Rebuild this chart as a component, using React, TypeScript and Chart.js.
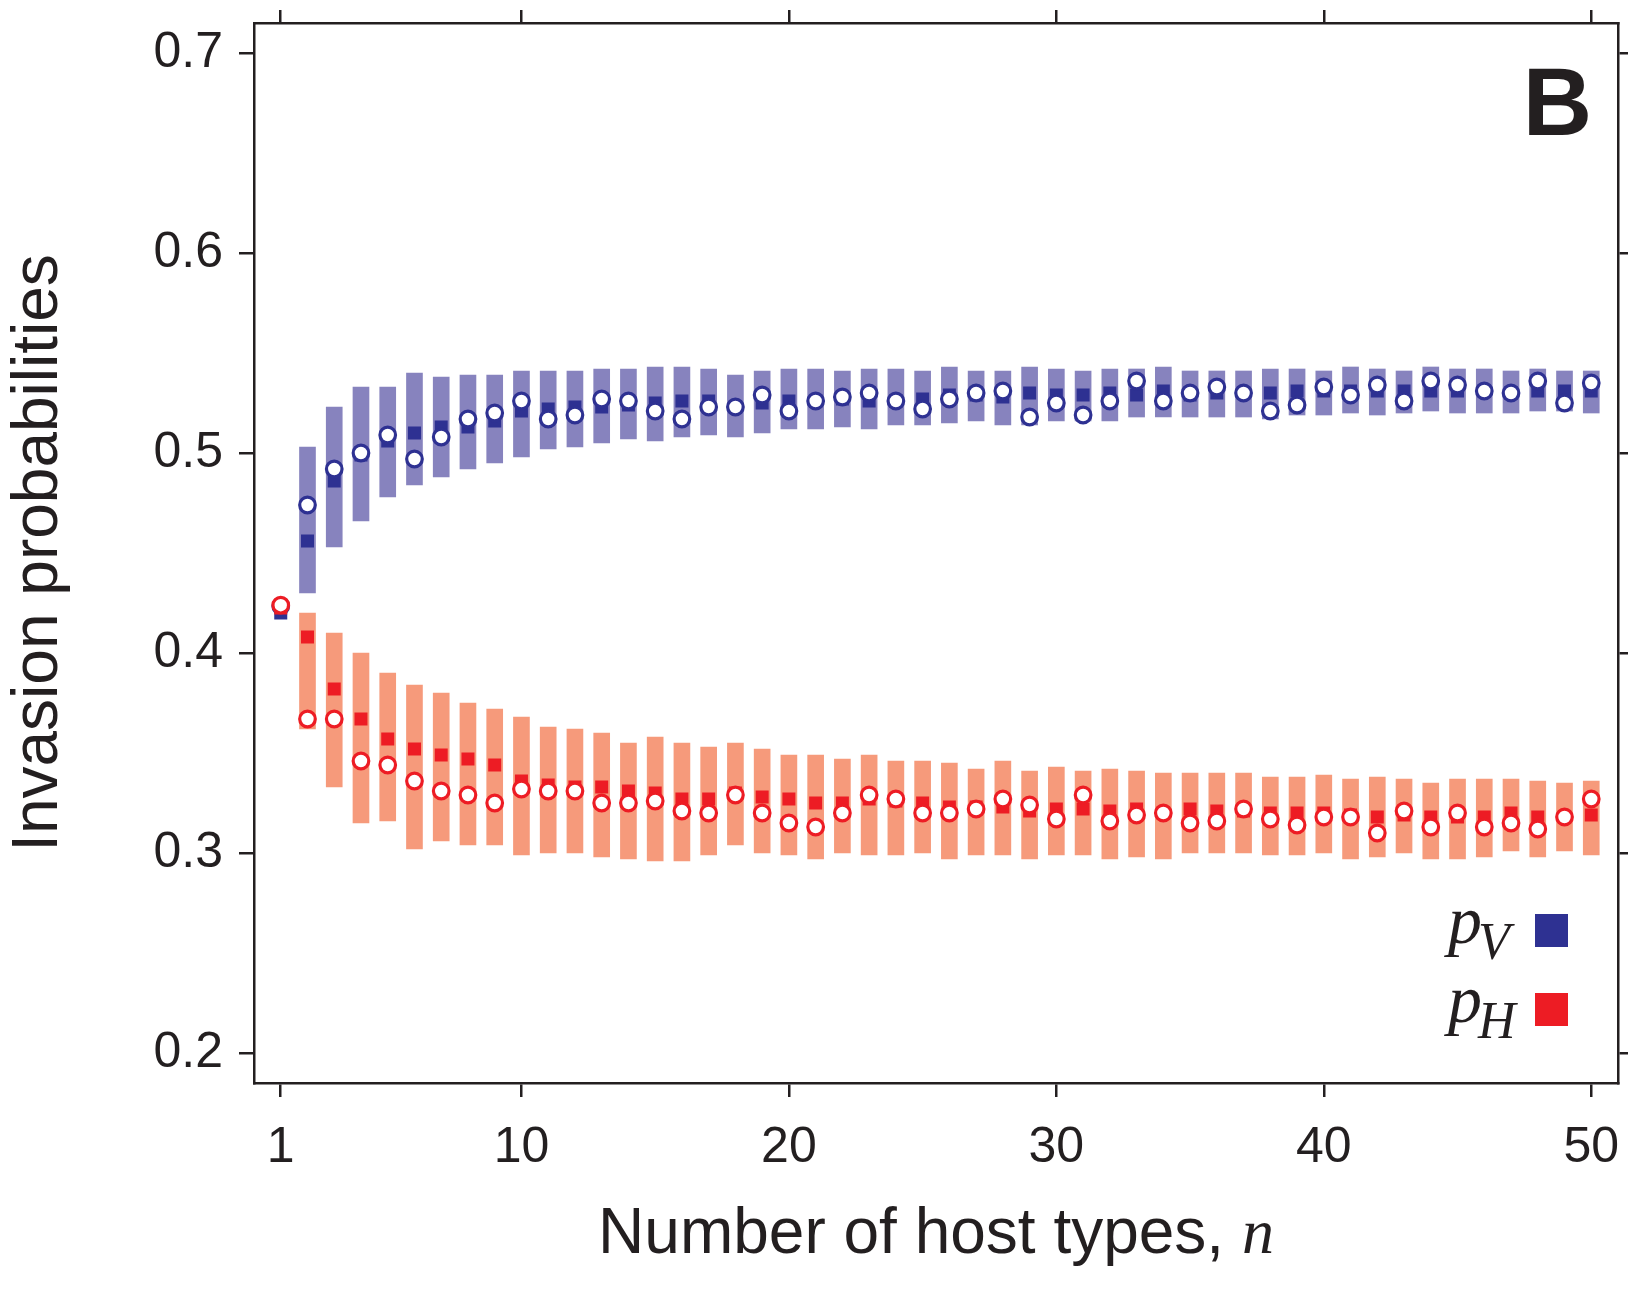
import React, { useEffect, useRef } from "react";
import { Chart, registerables } from "chart.js";

Chart.register(...registerables);

// ---------------- data ----------------
const nValues = [
  1, 2, 3, 4, 5, 6, 7, 8, 9, 10, 11, 12, 13, 14, 15, 16, 17, 18, 19, 20, 21, 22, 23, 24, 25,
  26, 27, 28, 29, 30, 31, 32, 33, 34, 35, 36, 37, 38, 39, 40, 41, 42, 43, 44, 45, 46, 47, 48, 49, 50,
];
const xTickValues = [1, 10, 20, 30, 40, 50];
const yTickValues = [0.2, 0.3, 0.4, 0.5, 0.6, 0.7];

// p_V : range bars (low / high), squares, open circles
const pVLow = [
  null, 0.430, 0.453, 0.466, 0.478, 0.484, 0.488, 0.492, 0.495, 0.498,
  0.502, 0.503, 0.505, 0.507, 0.506, 0.508, 0.509, 0.508, 0.510, 0.512,
  0.512, 0.513, 0.512, 0.514, 0.514, 0.515, 0.516, 0.514, 0.514, 0.516,
  0.516, 0.516, 0.518, 0.518, 0.518, 0.518, 0.518, 0.517, 0.519, 0.519,
  0.520, 0.519, 0.520, 0.521, 0.520, 0.520, 0.520, 0.521, 0.521, 0.520,
];
const pVHigh = [
  null, 0.503, 0.523, 0.533, 0.533, 0.540, 0.538, 0.539, 0.539, 0.541,
  0.541, 0.541, 0.542, 0.542, 0.543, 0.543, 0.542, 0.539, 0.541, 0.542,
  0.542, 0.541, 0.542, 0.542, 0.541, 0.543, 0.541, 0.541, 0.543, 0.542,
  0.541, 0.542, 0.542, 0.543, 0.541, 0.541, 0.541, 0.542, 0.542, 0.541,
  0.543, 0.542, 0.541, 0.543, 0.542, 0.542, 0.541, 0.542, 0.541, 0.541,
];
const pVSquare = [
  0.420, 0.456, 0.486, 0.499, 0.506, 0.510, 0.513, 0.513, 0.516, 0.521,
  0.522, 0.523, 0.523, 0.524, 0.525, 0.526, 0.526, 0.523, 0.525, 0.526,
  0.526, 0.527, 0.526, 0.526, 0.527, 0.529, 0.529, 0.528, 0.530, 0.529,
  0.529, 0.530, 0.529, 0.531, 0.529, 0.530, 0.530, 0.530, 0.531, 0.531,
  0.531, 0.531, 0.531, 0.531, 0.531, 0.531, 0.530, 0.531, 0.531, 0.531,
];
const pVCircle = [
  0.4235, 0.474, 0.492, 0.500, 0.509, 0.497, 0.508, 0.517, 0.520, 0.526,
  0.517, 0.519, 0.527, 0.526, 0.521, 0.517, 0.523, 0.523, 0.529, 0.521,
  0.526, 0.528, 0.530, 0.526, 0.522, 0.527, 0.530, 0.531, 0.518, 0.525,
  0.519, 0.526, 0.536, 0.526, 0.530, 0.533, 0.530, 0.521, 0.524, 0.533,
  0.529, 0.534, 0.526, 0.536, 0.534, 0.531, 0.530, 0.536, 0.525, 0.535,
];

// p_H : range bars (low / high), squares, open circles
const pHLow = [
  null, 0.362, 0.333, 0.315, 0.316, 0.302, 0.306, 0.304, 0.304, 0.299,
  0.300, 0.300, 0.298, 0.297, 0.296, 0.296, 0.299, 0.304, 0.300, 0.299,
  0.297, 0.300, 0.299, 0.299, 0.300, 0.297, 0.299, 0.299, 0.297, 0.299,
  0.299, 0.297, 0.298, 0.297, 0.300, 0.300, 0.300, 0.299, 0.299, 0.300,
  0.297, 0.298, 0.300, 0.297, 0.297, 0.298, 0.301, 0.298, 0.301, 0.299,
];
const pHHigh = [
  null, 0.420, 0.410, 0.400, 0.390, 0.384, 0.380, 0.375, 0.372, 0.368,
  0.363, 0.362, 0.360, 0.355, 0.358, 0.355, 0.353, 0.355, 0.352, 0.349,
  0.349, 0.347, 0.349, 0.346, 0.346, 0.345, 0.342, 0.346, 0.341, 0.343,
  0.341, 0.342, 0.341, 0.340, 0.340, 0.340, 0.340, 0.338, 0.338, 0.339,
  0.337, 0.338, 0.337, 0.335, 0.337, 0.337, 0.337, 0.336, 0.335, 0.336,
];
const pHSquare = [
  0.4225, 0.408, 0.382, 0.367, 0.357, 0.352, 0.349, 0.347, 0.344, 0.336,
  0.334, 0.333, 0.333, 0.331, 0.330, 0.327, 0.327, 0.330, 0.328, 0.327,
  0.325, 0.325, 0.327, 0.326, 0.325, 0.323, 0.323, 0.323, 0.321, 0.322,
  0.322, 0.321, 0.322, 0.320, 0.322, 0.321, 0.321, 0.320, 0.320, 0.320,
  0.319, 0.318, 0.319, 0.318, 0.318, 0.318, 0.320, 0.318, 0.318, 0.319,
];
const pHCircle = [
  0.4239, 0.367, 0.367, 0.346, 0.344, 0.336, 0.331, 0.329, 0.325, 0.332,
  0.331, 0.331, 0.325, 0.325, 0.326, 0.321, 0.320, 0.329, 0.320, 0.315,
  0.313, 0.320, 0.329, 0.327, 0.320, 0.320, 0.322, 0.327, 0.324, 0.317,
  0.329, 0.316, 0.319, 0.320, 0.315, 0.316, 0.322, 0.317, 0.314, 0.318,
  0.318, 0.310, 0.321, 0.313, 0.320, 0.313, 0.315, 0.312, 0.318, 0.327,
];

// ---------------- styling ----------------
const AXIS = "#231F20";
const BLUE_DARK = "#2E3192";
const BLUE_LIGHT = "#8783BE";
const RED_DARK = "#ED1C24";
const RED_LIGHT = "#F69A7B";
const SANS = "'Liberation Sans', Arial, Helvetica, sans-serif";
const SERIF = "'Liberation Serif', 'Times New Roman', serif";

const barData = (lo: (number | null)[], hi: (number | null)[]) =>
  nValues
    .map((n, i) => (lo[i] == null || hi[i] == null ? null : { x: n, y: [lo[i], hi[i]] }))
    .filter((d) => d !== null);
const pointData = (vals: number[]) => nValues.map((n, i) => ({ x: n, y: vals[i] }));

const grid = (len: number) => ({
  drawOnChartArea: false,
  drawTicks: true,
  tickLength: len,
  color: AXIS,
  tickColor: AXIS,
  lineWidth: 2.5,
  tickWidth: 2.5,
  offset: false,
});
const border = { display: true, color: AXIS, width: 2.5 };

const textPlugin = {
  id: "customText",
  afterDraw(chart: any) {
    const { ctx, chartArea } = chart;
    const { left, right, top, bottom } = chartArea;
    ctx.save();
    ctx.fillStyle = AXIS;

    // y-axis title
    ctx.save();
    ctx.translate(57, (top + bottom) / 2);
    ctx.rotate(-Math.PI / 2);
    ctx.font = `64px ${SANS}`;
    ctx.textAlign = "center";
    ctx.textBaseline = "alphabetic";
    ctx.fillText("Invasion probabilities", 0, 0);
    ctx.restore();

    // x-axis title (mixed fonts)
    const t1 = "Number of host types, ";
    const t2 = "n";
    ctx.font = `64px ${SANS}`;
    const w1 = ctx.measureText(t1).width;
    ctx.font = `italic 64px ${SERIF}`;
    const w2 = ctx.measureText(t2).width;
    const sx = (left + right) / 2 - (w1 + w2) / 2;
    const by = bottom + 170;
    ctx.textAlign = "left";
    ctx.textBaseline = "alphabetic";
    ctx.font = `64px ${SANS}`;
    ctx.fillText(t1, sx, by);
    ctx.font = `italic 64px ${SERIF}`;
    ctx.fillText(t2, sx + w1, by);

    // panel letter
    ctx.font = `bold 96px ${SANS}`;
    ctx.textAlign = "right";
    ctx.fillText("B", right - 26, top + 112);

    // legend
    const items = [
      { sub: "V", color: BLUE_DARK, base: bottom - 140 },
      { sub: "H", color: RED_DARK, base: bottom - 61 },
    ];
    items.forEach((it) => {
      ctx.fillStyle = AXIS;
      ctx.textAlign = "left";
      ctx.font = `italic 68px ${SERIF}`;
      ctx.fillText("p", right - 170, it.base);
      ctx.font = `italic 52px ${SERIF}`;
      ctx.fillText(it.sub, right - 140, it.base + 16);
      ctx.fillStyle = it.color;
      ctx.fillRect(right - 83, it.base - 29, 33, 33);
    });
    ctx.restore();
  },
};

export default function App() {
  const ref = useRef<HTMLCanvasElement | null>(null);

  useEffect(() => {
    if (!ref.current) return;
    const barCommon = {
      type: "bar" as const,
      barThickness: 16,
      grouped: false,
      borderWidth: 0,
      xAxisID: "x",
      yAxisID: "y",
    };
    const chart = new Chart(ref.current, {
      type: "scatter",
      data: {
        datasets: [
          { ...barCommon, label: "pV range", data: barData(pVLow, pVHigh), backgroundColor: BLUE_LIGHT, order: 6 } as any,
          {
            type: "scatter", label: "pV square", data: pointData(pVSquare), pointStyle: "rect",
            pointRadius: 9.2, borderWidth: 0, backgroundColor: BLUE_DARK, order: 5, showLine: false,
          } as any,
          {
            type: "scatter", label: "pV circle", data: pointData(pVCircle), pointStyle: "circle",
            pointRadius: 7.8, borderWidth: 3.2, borderColor: BLUE_DARK, backgroundColor: "#FFFFFF", order: 4, showLine: false,
          } as any,
          { ...barCommon, label: "pH range", data: barData(pHLow, pHHigh), backgroundColor: RED_LIGHT, order: 3 } as any,
          {
            type: "scatter", label: "pH square", data: pointData(pHSquare), pointStyle: "rect",
            pointRadius: 9.2, borderWidth: 0, backgroundColor: RED_DARK, order: 2, showLine: false,
          } as any,
          {
            type: "scatter", label: "pH circle", data: pointData(pHCircle), pointStyle: "circle",
            pointRadius: 7.8, borderWidth: 3.2, borderColor: RED_DARK, backgroundColor: "#FFFFFF", order: 1, showLine: false,
          } as any,
        ],
      },
      options: {
        animation: false,
        responsive: false,
        events: [],
        layout: { autoPadding: false, padding: 0 },
        plugins: { legend: { display: false }, tooltip: { enabled: false }, title: { display: false } },
        scales: {
          x: {
            type: "linear", position: "bottom", min: 0, max: 51, offset: false, bounds: "data",
            grid: grid(14), border,
            ticks: {
              autoSkip: false, maxRotation: 0, minRotation: 0, padding: 21, color: AXIS,
              font: { family: SANS, size: 50 }, callback: (v: any) => String(v),
            },
            afterBuildTicks: (s: any) => { s.ticks = xTickValues.map((v) => ({ value: v })); },
            afterFit: (s: any) => { s.height = 217; s.paddingLeft = 0; s.paddingRight = 0; },
          },
          x2: {
            type: "linear", position: "top", min: 0, max: 51, offset: false, bounds: "data",
            grid: grid(13), border,
            ticks: { display: false },
            afterBuildTicks: (s: any) => { s.ticks = xTickValues.map((v) => ({ value: v })); },
            afterFit: (s: any) => { s.height = 23; s.paddingLeft = 0; s.paddingRight = 0; },
          },
          y: {
            type: "linear", position: "left", min: 0.185, max: 0.715, beginAtZero: false, bounds: "data",
            grid: grid(15), border,
            ticks: {
              autoSkip: false, padding: 16, color: AXIS,
              font: { family: SANS, size: 50 }, callback: (v: any) => Number(v).toFixed(1),
            },
            afterBuildTicks: (s: any) => { s.ticks = yTickValues.map((v) => ({ value: v })); },
            afterFit: (s: any) => { s.width = 254; s.paddingTop = 0; s.paddingBottom = 0; },
          },
          y2: {
            type: "linear", position: "right", min: 0.185, max: 0.715, beginAtZero: false, bounds: "data",
            grid: grid(12), border,
            ticks: { display: false },
            afterBuildTicks: (s: any) => { s.ticks = yTickValues.map((v) => ({ value: v })); },
            afterFit: (s: any) => { s.width = 10; s.paddingTop = 0; s.paddingBottom = 0; },
          },
        },
      } as any,
      plugins: [textPlugin],
    });
    return () => chart.destroy();
  }, []);

  return (
    <div style={{ position: "absolute", left: 0, top: 0, width: 1628, height: 1300, background: "#fff" }}>
      <canvas ref={ref} width={1628} height={1300} style={{ display: "block" }} />
    </div>
  );
}
